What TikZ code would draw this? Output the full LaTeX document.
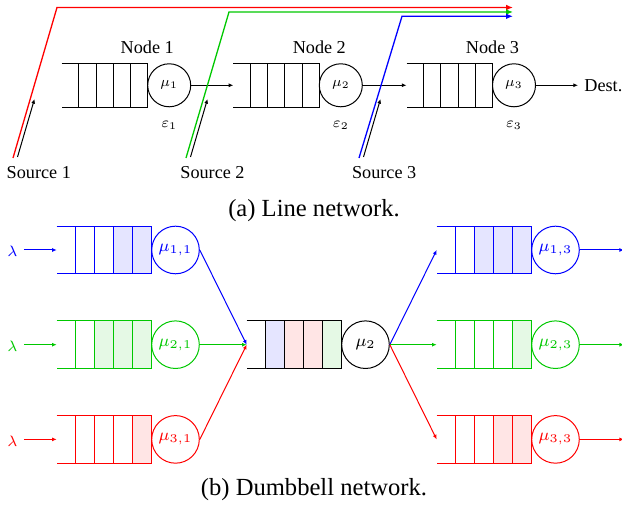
\RequirePackage{fix-cm}
\documentclass[tikz,border=0pt]{standalone}
\usepackage{fontspec}
\setmainfont{Liberation Serif}
\usetikzlibrary{arrows.meta,calc}
\definecolor{mygreen}{RGB}{0,200,0}
% #1 colour, #2 left x, #3 centre y, #4 half height, #5 cell width
\newcommand\qshape[5]{%
  \draw[line width=0.5pt,#1] (#2,{#3-#4}) -- ({#2+5*#5},{#3-#4}) -- ({#2+5*#5},{#3+#4}) -- (#2,{#3+#4});
  \foreach \k in {1,2,3,4}{\draw[line width=0.5pt,#1] ({#2+\k*#5},{#3-#4}) -- ({#2+\k*#5},{#3+#4});}%
}
% #1 colour, #2 left x, #3 centre y, #4 half height, #5 cell width, #6 cell index
\newcommand\qcell[6]{\fill[#1!10] ({#2+#6*#5},{#3-#4}) rectangle ({#2+(#6+1)*#5},{#3+#4});}
\begin{document}
\begin{tikzpicture}[x=0.5pt,y=-0.5pt,
  arr/.style={-{Latex[length=2.3pt,width=2pt]}, line width=0.5pt},
  carr/.style={-{Latex[length=3.4pt,width=2.8pt]}, line width=0.65pt},
  srvA/.style={circle,draw,line width=0.5pt,minimum size=21.5pt,inner sep=0pt,font=\fontsize{7}{8}\selectfont},
  srvB/.style={circle,draw,line width=0.5pt,minimum size=23.8pt,inner sep=0pt,font=\fontsize{8.5}{10}\selectfont},
  lbl/.style={inner sep=0pt,font=\fontsize{9.1}{11}\selectfont},
  epstxt/.style={inner sep=0pt,font=\fontsize{7.3}{8}\selectfont},
  lamtxt/.style={inner sep=0pt,font=\fontsize{7.5}{8}\selectfont},
  captxt/.style={inner sep=0pt,font=\fontsize{12.3}{14}\selectfont},
]
\useasboundingbox (0,0) rectangle (622,506);

%% ---------------- (a) Line network ----------------
\qshape{black}{61.7}{85.3}{22}{17.2}
\qshape{black}{233.3}{85.3}{22}{17.2}
\qshape{black}{406.5}{85.3}{22}{17.2}
\coordinate (q1) at (61.7,85.3);
\coordinate (q2) at (233.3,85.3);
\coordinate (q3) at (406.5,85.3);
\node[srvA] (s1) at (169.2,85.3) {$\mu_1$};
\node[srvA] (s2) at (340.8,85.3) {$\mu_2$};
\node[srvA] (s3) at (514.0,85.3) {$\mu_3$};
\node[lbl] (n1) at (147.2,47) {Node 1};
\node[lbl] (n2) at (319.3,47) {Node 2};
\node[lbl] (n3) at (492.5,47) {Node 3};
\node[epstxt] (e1) at (169.2,125) {$\varepsilon_1$};
\node[epstxt] (e2) at (340.8,125) {$\varepsilon_2$};
\node[epstxt] (e3) at (514.0,125) {$\varepsilon_3$};
\node[lbl,anchor=west] (dest) at (584,85.3) {Dest.};
\draw[arr] (s1.east) -- (q2);
\draw[arr] (s2.east) -- (q3);
\draw[arr,shorten >=3pt] (s3.east) -- (dest.west);

\node[lbl] (src1) at (38.8,172.5) {Source 1};
\node[lbl] (src2) at (212.5,172.5) {Source 2};
\node[lbl] (src3) at (384.2,172.5) {Source 3};

\coordinate (r0) at (13,158);   \coordinate (r1) at (57,7.5);   \coordinate (r2) at (513,7.5);
\coordinate (g0) at (186,158);  \coordinate (g1) at (229,12);   \coordinate (g2) at (513,12);
\coordinate (b0) at (359,158);  \coordinate (b1) at (402,16.3); \coordinate (b2) at (513,16.3);
\draw[carr,red] (r0) -- (r1) -- (r2);
\draw[carr,mygreen] (g0) -- (g1) -- (g2);
\draw[carr,blue] (b0) -- (b1) -- (b2);

\coordinate (k1a) at (17.5,157);  \coordinate (k1b) at (34.5,99);
\coordinate (k2a) at (190.5,157); \coordinate (k2b) at (207.5,99);
\coordinate (k3a) at (363.5,157); \coordinate (k3b) at (380.5,99);
\draw[arr] (k1a) -- (k1b);
\draw[arr] (k2a) -- (k2b);
\draw[arr] (k3a) -- (k3b);

\node[captxt] (capa) at (314,211) {(a) Line network.};

%% ---------------- (b) Dumbbell network ----------------
% left queues
\qcell{blue}{56.7}{250}{23.8}{19}{3}
\qcell{blue}{56.7}{250}{23.8}{19}{4}
\qcell{mygreen}{56.7}{344.7}{23.8}{19}{2}
\qcell{mygreen}{56.7}{344.7}{23.8}{19}{3}
\qcell{mygreen}{56.7}{344.7}{23.8}{19}{4}
\qcell{red}{56.7}{439.4}{23.8}{19}{4}
\qshape{blue}{56.7}{250}{23.8}{19}
\qshape{mygreen}{56.7}{344.7}{23.8}{19}
\qshape{red}{56.7}{439.4}{23.8}{19}
\coordinate (ql1) at (56.7,250);
\coordinate (ql2) at (56.7,344.7);
\coordinate (ql3) at (56.7,439.4);
\node[srvB,draw=blue,text=blue] (c11) at (175.5,250) {$\mu_{1,1}$};
\node[srvB,draw=mygreen,text=mygreen] (c21) at (175.5,344.7) {$\mu_{2,1}$};
\node[srvB,draw=red,text=red] (c31) at (175.5,439.4) {$\mu_{3,1}$};
\node[lamtxt,text=blue] (l1) at (12.5,251.5) {$\lambda$};
\node[lamtxt,text=mygreen] (l2) at (12.5,346.2) {$\lambda$};
\node[lamtxt,text=red] (l3) at (12.5,440.9) {$\lambda$};
\draw[arr,blue,shorten <=3pt] (l1.east |- ql1) -- (ql1);
\draw[arr,mygreen,shorten <=3pt] (l2.east |- ql2) -- (ql2);
\draw[arr,red,shorten <=3pt] (l3.east |- ql3) -- (ql3);

% middle queue
\qcell{blue}{246.7}{344.7}{23.8}{19}{1}
\qcell{red}{246.7}{344.7}{23.8}{19}{2}
\qcell{red}{246.7}{344.7}{23.8}{19}{3}
\qcell{mygreen}{246.7}{344.7}{23.8}{19}{4}
\qshape{black}{246.7}{344.7}{23.8}{19}
\coordinate (qm) at (246.7,344.7);
\node[srvB] (cm) at (365.5,344.7) {$\mu_2$};
\draw[arr,blue] (c11.east) -- (qm);
\draw[arr,red] (c31.east) -- (qm);
\draw[arr,mygreen] (c21.east) -- (qm);

% right queues
\qcell{blue}{436.7}{250}{23.8}{19}{2}
\qcell{blue}{436.7}{250}{23.8}{19}{3}
\qcell{blue}{436.7}{250}{23.8}{19}{4}
\qcell{mygreen}{436.7}{344.7}{23.8}{19}{4}
\qcell{red}{436.7}{439.4}{23.8}{19}{3}
\qcell{red}{436.7}{439.4}{23.8}{19}{4}
\qshape{blue}{436.7}{250}{23.8}{19}
\qshape{mygreen}{436.7}{344.7}{23.8}{19}
\qshape{red}{436.7}{439.4}{23.8}{19}
\coordinate (qr1) at (436.7,250);
\coordinate (qr2) at (436.7,344.7);
\coordinate (qr3) at (436.7,439.4);
\node[srvB,draw=blue,text=blue] (c13) at (555.5,250) {$\mu_{1,3}$};
\node[srvB,draw=mygreen,text=mygreen] (c23) at (555.5,344.7) {$\mu_{2,3}$};
\node[srvB,draw=red,text=red] (c33) at (555.5,439.4) {$\mu_{3,3}$};
\draw[arr,blue] (cm.east) -- (qr1);
\draw[arr,mygreen] (cm.east) -- (qr2);
\draw[arr,red] (cm.east) -- (qr3);
\coordinate (o1) at (624,250);
\coordinate (o2) at (624,344.7);
\coordinate (o3) at (624,439.4);
\draw[arr,blue] (c13.east) -- (o1);
\draw[arr,mygreen] (c23.east) -- (o2);
\draw[arr,red] (c33.east) -- (o3);

\node[captxt] (capb) at (314,490) {(b) Dumbbell network.};
\end{tikzpicture}
\end{document}
